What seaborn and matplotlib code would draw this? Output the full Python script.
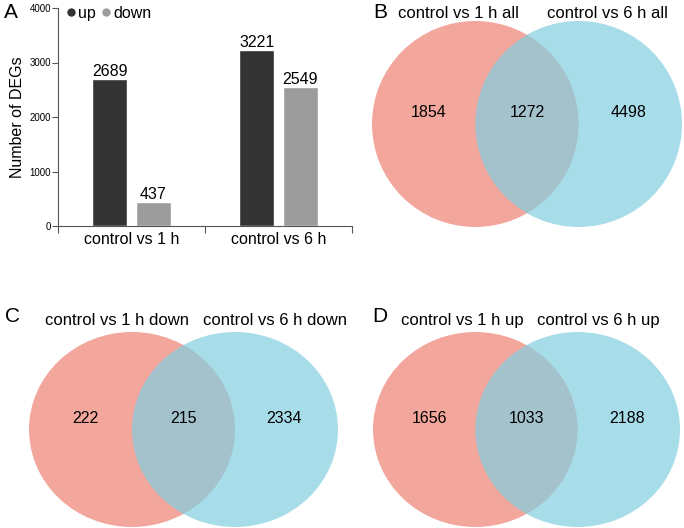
# DEG counts and Venn overlaps (control vs 1 h / 6 h)

import pandas as pd
import matplotlib
matplotlib.use("Agg")
import matplotlib.pyplot as plt
import seaborn as sns
from matplotlib.patches import Ellipse
from matplotlib.lines import Line2D

# ------------------- Data -------------------

groups = ["control vs 1 h", "control vs 6 h"]
up_counts = [2689, 3221]
down_counts = [437, 2549]

venn_all = [1854, 1272, 4498]
venn_down = [222, 215, 2334]
venn_up = [1656, 1033, 2188]

sets_all = ["control vs 1 h all", "control vs 6 h all"]
sets_down = ["control vs 1 h down", "control vs 6 h down"]
sets_up = ["control vs 1 h up", "control vs 6 h up"]

df = pd.DataFrame({
    "group": groups * 2,
    "direction": ["up"] * 2 + ["down"] * 2,
    "count": up_counts + down_counts,
})

# ------------------- Style -------------------

sns.set_theme(style="ticks")
plt.rcParams["font.family"] = ["Liberation Sans", "DejaVu Sans"]
plt.rcParams["text.color"] = "black"
plt.rcParams["axes.labelcolor"] = "black"
plt.rcParams["xtick.labelcolor"] = "black"
plt.rcParams["ytick.labelcolor"] = "black"

bar_colors = {"up": "#333333", "down": "#9c9c9c"}
red = "#f2a69c"
blue = "#84cee0"
axis_col = "#555555"

W, H = 684, 528
fig = plt.figure(figsize=(6.84, 5.28), dpi=100)

# ------------------- A: bar chart -------------------

ax = fig.add_axes([58 / W, 1 - 226 / H, 294 / W, 218 / H])
sns.barplot(data=df, x="group", y="count", hue="direction",
            palette=bar_colors, width=0.59, gap=0.19, saturation=1,
            legend=False, ax=ax)
for c in ax.containers:
    ax.bar_label(c, fontsize=11.5, padding=0)

ax.set_xlim(-0.5, 1.5)
ax.set_ylim(0, 4000)
ax.set_yticks([0, 1000, 2000, 3000, 4000])
ax.tick_params(axis="y", labelsize=7, length=4, width=0.8, color=axis_col, pad=1)
ax.tick_params(axis="x", which="major", length=0, labelsize=11.5, pad=4)
ax.set_xticks([-0.5, 0.5, 1.5], minor=True)
ax.tick_params(axis="x", which="minor", length=5, width=0.8, color=axis_col)
ax.set_xlabel("")
ax.set_ylabel("Number of DEGs", fontsize=11.5, labelpad=3)
sns.despine(ax=ax)
for s in ["left", "bottom"]:
    ax.spines[s].set_color(axis_col)
    ax.spines[s].set_linewidth(0.8)

handles = [Line2D([], [], marker="o", ls="", color=bar_colors[k], markersize=5)
           for k in ["up", "down"]]
ax.legend(handles, ["up", "down"], ncol=2, frameon=False, fontsize=11.5,
          loc="upper left", bbox_to_anchor=(-0.01, 1.04),
          handletextpad=-0.15, columnspacing=0.05, handlelength=1.2,
          borderaxespad=0)

# ------------------- Venn panels -------------------

def venn(rect, counts, names, title_x, title_y):
    vax = fig.add_axes(rect)
    vax.set_xlim(-1.5, 1.5)
    vax.set_ylim(-1, 1)
    vax.axis("off")
    vax.add_patch(Ellipse((-0.5, 0), 2, 2, color=red, lw=0))
    vax.add_patch(Ellipse((0.5, 0), 2, 2, color=blue, alpha=0.71, lw=0))
    for x, n in zip([-0.95, 0.0, 0.98], counts):
        vax.text(x, 0.11, str(n), ha="center", va="center", fontsize=11.5)
    for x, name in zip(title_x, names):
        vax.text(x, title_y, name, ha="center", va="center",
                 fontsize=12, clip_on=False)
    return vax

venn([372 / W, 1 - 227 / H, 310 / W, 206 / H], venn_all, sets_all,
     [-0.66, 0.78], 1.07)
venn([29 / W, 1 - 527 / H, 309 / W, 195 / H], venn_down, sets_down,
     [-0.65, 0.89], 1.12)
venn([373 / W, 1 - 527 / H, 307 / W, 195 / H], venn_up, sets_up,
     [-0.63, 0.70], 1.12)

# panel letters
for lab, x, y in [("A", 11, 13), ("B", 380, 12), ("C", 12, 317), ("D", 380, 317)]:
    fig.text(x / W, 1 - y / H, lab, ha="center", va="center", fontsize=15)

fig.savefig("out.png", dpi=100)
